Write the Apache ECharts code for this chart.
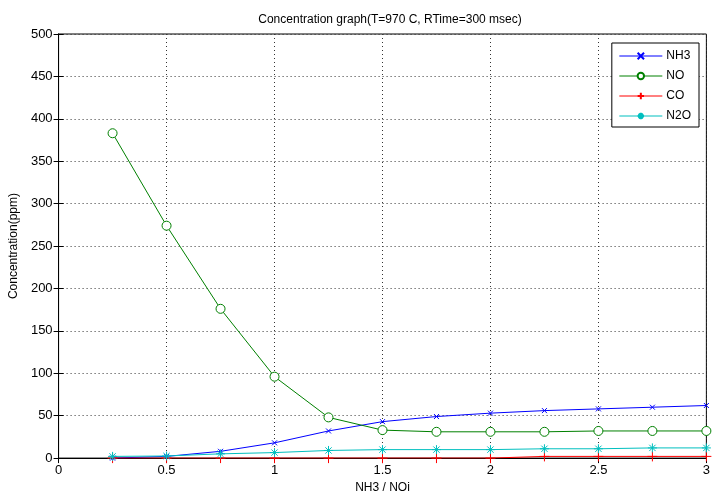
<!DOCTYPE html>
<html>
<head>
<meta charset="utf-8">
<script src="https://cdn.jsdelivr.net/npm/echarts@6/dist/echarts.min.js"></script>
<style>
  html, body { margin: 0; padding: 0; background: #fff; }
  #main { width: 713px; height: 499px; }
</style>
</head>
<body>
<div id="main"></div>
<script>
// values
let ratio = [0.25, 0.5, 0.75, 1, 1.25, 1.5, 1.75, 2, 2.25, 2.5, 2.75, 3];
let nh3 = [0, 2, 8, 18, 32, 43, 49, 53, 56, 58, 60, 62];
let no = [383, 274, 176, 96, 48, 33, 31, 31, 31, 32, 32, 32];
let co = [0, 0, 0, 0, 0, 0, 0, 0, 2, 2, 2, 2];
let n2o = [2, 2.5, 5, 6.5, 9, 10, 10, 10, 11, 11, 12, 12];

let xTicks = [0, 0.5, 1, 1.5, 2, 2.5, 3];

let font = "'Liberation Sans', Arial, sans-serif";

// marker shapes like matlab
let xMark = 'path://M0,0L10,10M10,0L0,10';
let plusMark = 'path://M5,0L5,10M0,5L10,5';
let circMark = 'path://M10,5A5,5,0,1,1,0,5A5,5,0,1,1,10,5Z';
let starMark = 'path://M5,0L5,10M0,5L10,5M1.5,1.5L8.5,8.5M8.5,1.5L1.5,8.5';

function pairs(ys) {
    return ratio.map(function (x, i) { return [x, ys[i]]; });
}

function mkSeries(name, ys, color, symbol, size) {
    let fill = symbol === circMark ? '#fff' : color;
    return {
        name: name,
        type: 'line',
        data: pairs(ys),
        symbol: symbol,
        symbolSize: size,
        showAllSymbol: true,
        lineStyle: { color: color, width: 1 },
        itemStyle: { color: fill, borderColor: color, borderWidth: 1 },
        emphasis: { disabled: true },
        animation: false
    };
}

let gridDots = { color: '#333', type: [1, 3], width: 1 };

let chart = echarts.init(document.getElementById('main'));

chart.setOption({
    backgroundColor: '#fff',
    animation: false,
    title: {
        text: 'Concentration graph(T=970 C, RTime=300 msec)',
        left: 385,
        top: 9,
        textAlign: 'center',
        textStyle: { fontFamily: font, fontSize: 12, fontWeight: 'normal', color: '#000' }
    },
    grid: { left: 58, right: 1, top: 34, bottom: 34, show: true, borderColor: '#000', borderWidth: 1 },
    legend: {
        orient: 'vertical',
        right: 14,
        top: 43,
        itemWidth: 43,
        itemHeight: 8,
        itemGap: 8,
        padding: [7, 8, 5, 7],
        borderColor: '#000',
        borderWidth: 1,
        backgroundColor: '#fff',
        lineStyle: { width: 1 },
        textStyle: { fontFamily: font, fontSize: 12, color: '#000', padding: [0, 0, 0, -1] },
        data: ['NH3', 'NO', 'CO', 'N2O']
    },
    xAxis: [{
        type: 'value',
        min: 0, max: 3, interval: 0.5,
        name: 'NH3 / NOi',
        nameLocation: 'middle',
        nameGap: 22,
        nameTextStyle: { fontFamily: font, fontSize: 12, color: '#000' },
        axisLine: { lineStyle: { color: '#000' } },
        axisTick: { inside: true, length: 5, lineStyle: { color: '#000' } },
        axisLabel: { fontFamily: font, fontSize: 13, color: '#000', margin: 6,
            formatter: function (v) { return xTicks.indexOf(v) >= 0 ? String(v) : ''; } },
        splitLine: { show: true, lineStyle: gridDots }
    }, {
        type: 'value', position: 'top',
        min: 0, max: 3, interval: 0.5,
        axisLine: { show: true, lineStyle: { color: '#000' } },
        axisTick: { inside: true, length: 5, lineStyle: { color: '#000' } },
        axisLabel: { show: false },
        splitLine: { show: false }
    }],
    yAxis: [{
        type: 'value',
        min: 0, max: 500, interval: 50,
        name: 'Concentration(ppm)',
        nameLocation: 'middle',
        nameGap: 37,
        nameTextStyle: { fontFamily: font, fontSize: 12, color: '#000' },
        axisLine: { show: true, lineStyle: { color: '#000' } },
        axisTick: { show: true, inside: true, length: 5, lineStyle: { color: '#000' } },
        axisLabel: { fontFamily: font, fontSize: 13, color: '#000', margin: 6 },
        splitLine: { show: true, lineStyle: gridDots }
    }, {
        type: 'value', position: 'right',
        min: 0, max: 500, interval: 50,
        axisLine: { show: true, lineStyle: { color: '#000' } },
        axisTick: { show: true, inside: true, length: 5, lineStyle: { color: '#000' } },
        axisLabel: { show: false },
        splitLine: { show: false }
    }],
    series: [
        mkSeries('NH3', nh3, '#0000ff', xMark, 5),
        mkSeries('NO', no, '#008000', circMark, 9),
        mkSeries('CO', co, '#ff0000', plusMark, 10),
        mkSeries('N2O', n2o, '#00bfbf', starMark, 9)
    ]
});
</script>
</body>
</html>
